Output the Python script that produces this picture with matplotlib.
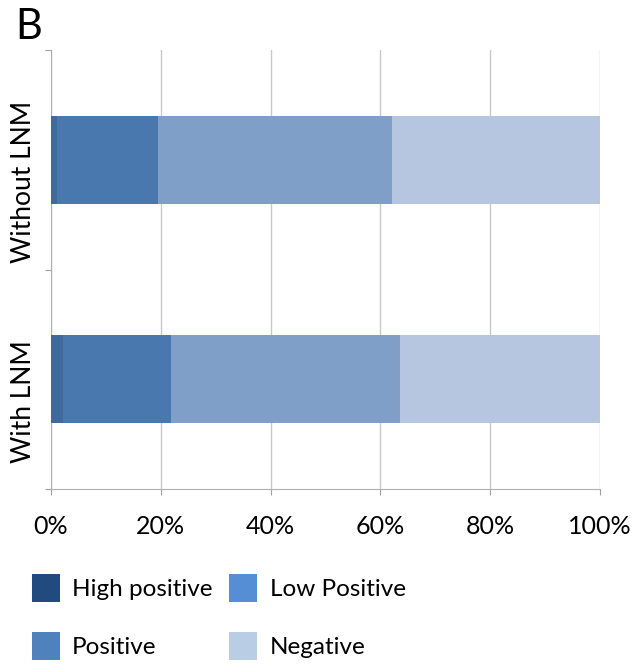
import matplotlib.pyplot as plt
from matplotlib.patches import Patch

# Share of cases per staining category (percent)
groups = ['Without LNM', 'With LNM']
categories = ['High positive', 'Low Positive', 'Positive', 'Negative']
high_positive = [1.1, 2.2]
low_positive = [18.4, 19.6]
positive = [42.7, 41.7]
negative = [37.8, 36.5]
ticks = [0, 20, 40, 60, 80, 100]
tick_labels = ['0%', '20%', '40%', '60%', '80%', '100%']

bar_colors = ['#3e6a9e', '#4878ae', '#7f9fc9', '#b7c6e0']
legend_colors = ['#214a7e', '#558ed5', '#4f81bd', '#b9cde5']

plt.rcParams['font.family'] = ['Lato', 'DejaVu Sans']

fig = plt.figure(figsize=(6.36, 6.65), dpi=100)
ax = fig.add_axes([51 / 636, 1 - 489 / 665, 549 / 636, 439 / 665])

ypos = [0.5, 1.5]
left = [0, 0]
for vals, col in zip([high_positive, low_positive, positive, negative], bar_colors):
    ax.barh(ypos, vals, left=left, height=0.4, color=col, edgecolor='none', zorder=3)
    left = [a + b for a, b in zip(left, vals)]

ax.set_xlim(0, 100)
ax.set_ylim(2, 0)
ax.set_xticks(ticks)
ax.set_xticklabels(tick_labels, fontsize=18)
ax.set_yticks([0, 1, 2])
ax.set_yticklabels([])
ax.grid(axis='x', color='#c8c8c8', linewidth=1, zorder=0)
ax.tick_params(axis='x', length=4, pad=15, color='#a0a0a0')
ax.tick_params(axis='y', length=4, color='#a0a0a0')
for s in ['top', 'right']:
    ax.spines[s].set_visible(False)
for s in ['left', 'bottom']:
    ax.spines[s].set_color('#b0b0b0')

# category labels, rotated, slightly below bar centres
for y, g in zip(ypos, groups):
    ax.text(-0.05, y + 0.1, g, transform=ax.get_yaxis_transform(), rotation=90,
            ha='center', va='center', fontsize=19)

fig.text(15 / 636, 1 - 27 / 665, 'B', fontsize=30, va='center', ha='left')

# legend is filled column by column, so order gives rows High/Low, Positive/Negative
order = [0, 2, 1, 3]
handles = [Patch(facecolor=legend_colors[i], edgecolor='none') for i in order]
labels = [categories[i] for i in order]
fig.legend(handles, labels, ncol=2, loc='upper left',
           bbox_to_anchor=(10 / 636, 1 - 552 / 665), frameon=False, fontsize=17.5,
           handlelength=1.15, handleheight=1.4, handletextpad=0.5,
           columnspacing=0.7, labelspacing=1.25)

fig.savefig('out.png', dpi=100)
